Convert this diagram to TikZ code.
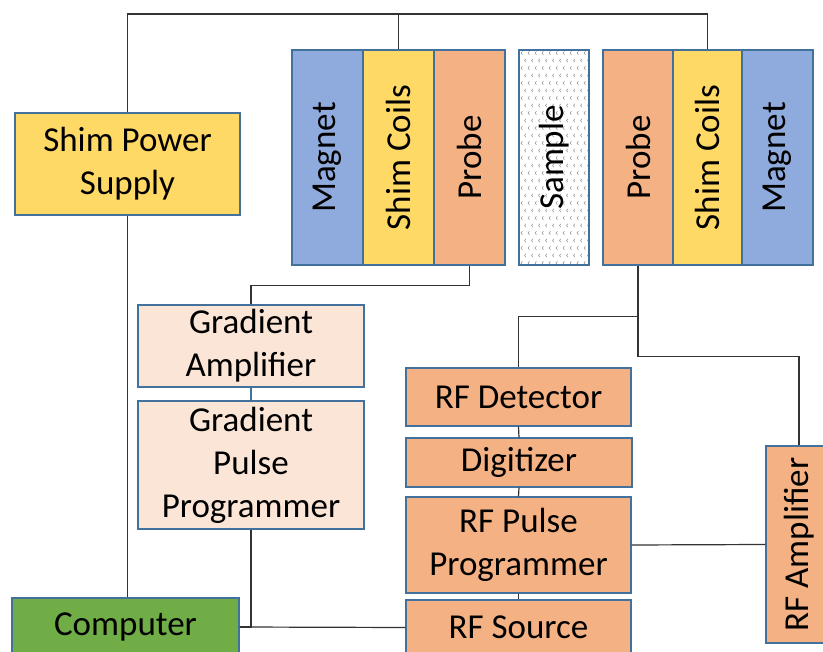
\documentclass[tikz,border=0pt]{standalone}
\usepackage{fontspec}
\setmainfont{Carlito}

\definecolor{magnetblue}{HTML}{8FAADC}
\definecolor{shimyellow}{HTML}{FFD966}
\definecolor{probeorange}{HTML}{F4B183}
\definecolor{gradpeach}{HTML}{FBE5D6}
\definecolor{compgreen}{HTML}{70AD47}
\definecolor{edgeblue}{HTML}{41719C}
\definecolor{wiregray}{HTML}{333333}

\tikzset{
  unit/.style={draw=edgeblue, line width=1.1pt, inner sep=0pt, align=center,
    font=\fontsize{35}{43}\selectfont, text=black},
  wire/.style={draw=wiregray, line width=1.2pt},
}

\begin{document}
\begin{tikzpicture}[x=1pt,y=-1pt]
  \useasboundingbox (0,0) rectangle (823,652);
  \clip (0,0) rectangle (823,652);

  % sample texture
  \begin{scope}
    \clip (519,50) rectangle (589,265);
    \foreach \j in {0,...,28} {
      \foreach \i in {0,...,9} {
        \pgfmathsetmacro{\x}{521+7*\i+3.5*mod(\j,2)}
        \pgfmathsetmacro{\y}{53+7.5*\j}
        \draw[gray!75,line width=0.6pt] (\x+1.5,\y-1.8) -- (\x,\y) -- (\x+1.5,\y+1.8);
      }
    }
  \end{scope}

  % magnet bore, left to right
  \foreach \name/\x/\w/\col/\txt in {magL/327.5/71/magnetblue/Magnet,
      shimL/398.5/71/shimyellow/Shim Coils, probeL/469.5/71/probeorange/Probe,
      sample/554/70/none/Sample, probeR/638/70/probeorange/Probe,
      shimR/707.5/69/shimyellow/Shim Coils, magR/777.5/71/magnetblue/Magnet} {
    \node[unit, fill=\col, minimum width=\w, minimum height=215]
      (\name) at (\x,157.5) {\rotatebox{90}{\txt}};
  }

  \node[unit, fill=shimyellow, minimum width=225, minimum height=102]
    (shimps) at (127.5,164) {Shim Power\\Supply};

  % gradient chain
  \node[unit, fill=gradpeach, minimum width=226, minimum height=82]
    (gamp) at (251,346) {Gradient\\Amplifier};
  \node[unit, fill=gradpeach, minimum width=226, minimum height=128]
    (gpulse) at (251,465) {Gradient\\Pulse\\Programmer};

  \node[unit, fill=compgreen, minimum width=227, minimum height=58]
    (comp) at (125.5,627) {Computer};

  % rf chain
  \node[unit, fill=probeorange, minimum width=225, minimum height=58]
    (rfdet) at (518.5,397) {RF Detector};
  \node[unit, fill=probeorange, minimum width=226, minimum height=49]
    (digi) at (519,462.5) {Digitizer};
  \node[unit, fill=probeorange, minimum width=225, minimum height=96]
    (rfpp) at (518.5,545) {RF Pulse\\Programmer};
  \node[unit, fill=probeorange, minimum width=225, minimum height=55]
    (rfsrc) at (518.5,627.5) {RF Source};
  \node[unit, fill=probeorange, minimum width=66, minimum height=197]
    (rfamp) at (799,544.5) {\rotatebox{90}{RF Amplifier}};

  % wiring
  \coordinate (busTop) at (127.5,14);
  \draw[wire] (shimps.north) -- (busTop) -| (shimR.north);
  \draw[wire] (shimL.north) -- (shimL.north |- busTop);
  \draw[wire] (shimps.south) -- (shimps.south |- comp.north);

  \draw[wire] (probeL.south) -- ++(0,20) -| (gamp.north);
  \draw[wire,draw=edgeblue] (gamp.south) -- (gpulse.north);
  \draw[wire] (gpulse.south) |- (comp.east);
  \draw[wire] (comp.east) -- (rfsrc.west);

  \draw[wire,line width=1.8pt] (probeR.south) -- ++(0,51) coordinate (rfsplit);
  \draw[wire] (rfsplit) -| (rfdet.north);
  \draw[wire] (rfsplit) -- ++(0,40) -| (rfamp.north);
  \draw[wire] (rfdet.south) -- (digi.north);
  \draw[wire] (digi.south) -- (rfpp.north);
  \draw[wire] (rfpp.south) -- (rfsrc.north);
  \draw[wire] (rfpp.east) -- (rfamp.west);
\end{tikzpicture}
\end{document}
